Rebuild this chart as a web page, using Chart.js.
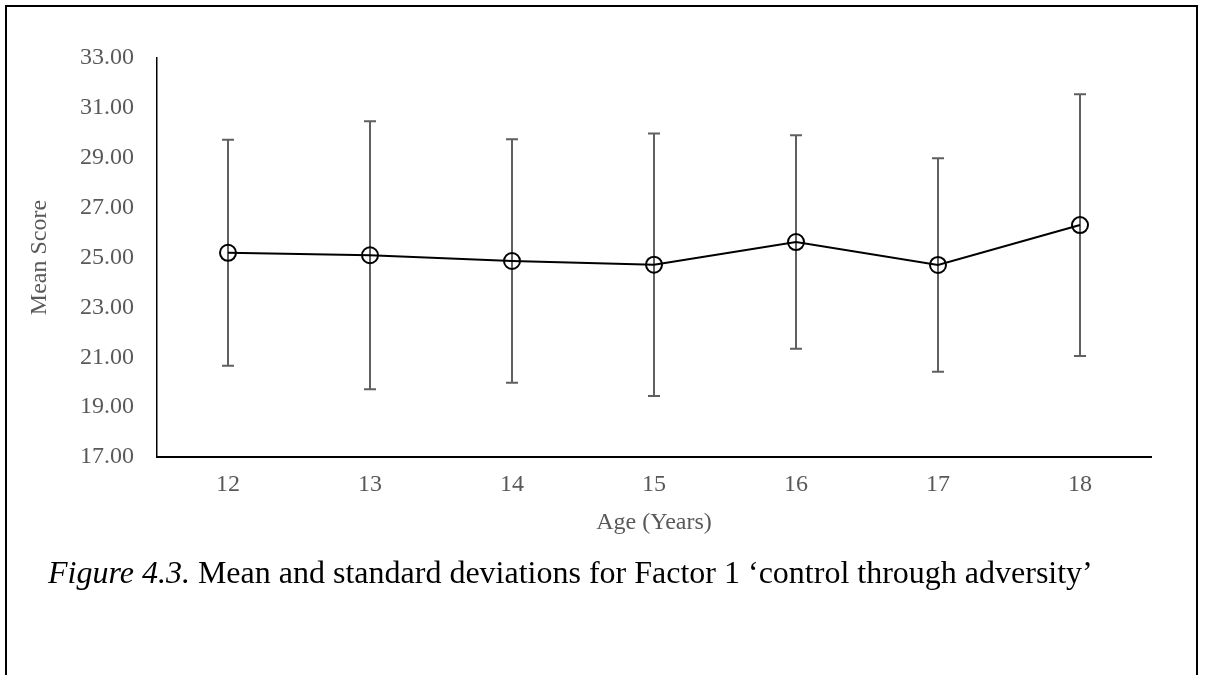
<!DOCTYPE html>
<html>
<head>
<meta charset="utf-8">
<script src="https://cdn.jsdelivr.net/npm/chart.js@4/dist/chart.umd.min.js"></script>
<style>
  html, body { margin: 0; padding: 0; background: #ffffff; }
  body { width: 1205px; height: 675px; position: relative; overflow: hidden; }
  #frame { position: absolute; left: 5px; top: 5px; width: 1193px; height: 720px; border: 2px solid #000; box-sizing: border-box; }
  #wrap { position: absolute; left: 0; top: 0; width: 1205px; height: 560px; }
  #caption { position: absolute; left: 48px; top: 556px; font-family: "Liberation Serif", "Times New Roman", serif; font-size: 32px; line-height: 32px; color: #000; white-space: nowrap; }
</style>
</head>
<body>
<div id="frame"></div>
<div id="wrap"><canvas id="c"></canvas></div>
<div id="caption"><i>Figure 4.3.</i> Mean and standard deviations for Factor 1 ‘control through adversity’</div>
<script>
const ages = ['12', '13', '14', '15', '16', '17', '18'];
const means = [25.19, 25.09, 24.86, 24.71, 25.62, 24.70, 26.30];
const sds = [4.53, 5.37, 4.88, 5.26, 4.28, 4.28, 5.25];
const yTicks = [17, 19, 21, 23, 25, 27, 29, 31, 33];

const serif = '"Liberation Serif", "Times New Roman", serif';

const errorBars = {
  id: 'errorBars',
  beforeDatasetsDraw(chart) {
    const ctx = chart.ctx;
    const xs = chart.scales.x, ys = chart.scales.y;
    ctx.save();
    ctx.strokeStyle = '#606060';
    ctx.lineWidth = 2;
    means.forEach((m, i) => {
      const x = xs.getPixelForValue(i);
      const yt = ys.getPixelForValue(m + sds[i]);
      const yb = ys.getPixelForValue(m - sds[i]);
      ctx.beginPath();
      ctx.moveTo(x, yt); ctx.lineTo(x, yb);
      ctx.moveTo(x - 6, yt); ctx.lineTo(x + 6, yt);
      ctx.moveTo(x - 6, yb); ctx.lineTo(x + 6, yb);
      ctx.stroke();
    });
    ctx.restore();
  }
};

new Chart(document.getElementById('c'), {
  type: 'line',
  data: {
    labels: ages,
    datasets: [{
      data: means,
      borderColor: '#000',
      borderWidth: 2,
      pointRadius: 8,
      pointHoverRadius: 8,
      pointBorderWidth: 2,
      pointBorderColor: '#000',
      pointBackgroundColor: 'rgba(0,0,0,0)',
      tension: 0,
      fill: false
    }]
  },
  options: {
    responsive: true,
    maintainAspectRatio: false,
    animation: false,
    events: [],
    layout: { padding: { top: 58, right: 54, left: 0, bottom: 0 } },
    plugins: { legend: { display: false }, tooltip: { enabled: false } },
    scales: {
      x: {
        offset: true,
        grid: { display: false, drawTicks: false },
        border: { display: true, color: '#000', width: 2 },
        ticks: { color: '#595959', font: { family: serif, size: 24 }, padding: 13.6, maxRotation: 0 },
        title: { display: true, text: 'Age (Years)', color: '#595959', font: { family: serif, size: 24 }, padding: { top: 0, bottom: 22.6 } },
        afterFit(scale) { scale.height = 103; }
      },
      y: {
        min: 17,
        max: 33,
        afterBuildTicks(scale) { scale.ticks = yTicks.map(v => ({ value: v })); },
        grid: { display: false, drawTicks: false },
        border: { display: true, color: '#000', width: 1.5 },
        ticks: { color: '#595959', font: { family: serif, size: 24 }, padding: 23, callback: v => Number(v).toFixed(2) },
        title: { display: true, text: 'Mean Score', color: '#595959', font: { family: serif, size: 24 }, padding: { top: 25, bottom: 0 } },
        afterFit(scale) { scale.width = 157; }
      }
    }
  },
  plugins: [errorBars]
});
</script>
</body>
</html>
